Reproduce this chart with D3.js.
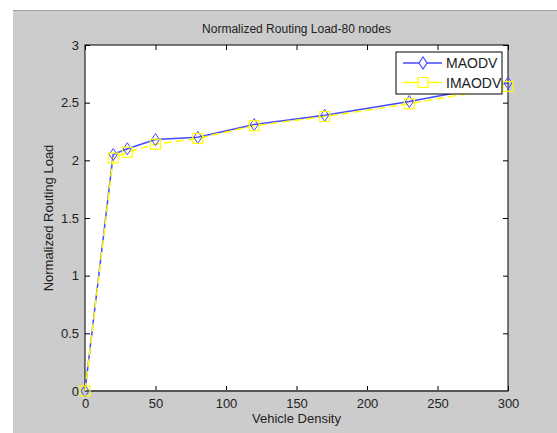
<!DOCTYPE html>
<html>
<head>
<meta charset="utf-8">
<script src="https://cdn.jsdelivr.net/npm/d3@7"></script>
<style>
  body { margin: 0; background: #fff; }
  svg text { font-family: Arial, "Liberation Sans", sans-serif; fill: #222; }
</style>
</head>
<body>
<div id="chart"></div>
<script>
// values
var density = [0, 20, 30, 50, 80, 120, 170, 230, 300];
var maodv  = [0, 2.05, 2.10, 2.18, 2.20, 2.31, 2.39, 2.51, 2.67];
var imaodv = [0, 2.02, 2.07, 2.14, 2.19, 2.30, 2.38, 2.49, 2.64];
var xTicks = [0, 50, 100, 150, 200, 250, 300];
var yTicks = [0, 0.5, 1, 1.5, 2, 2.5, 3];

var W = 557, H = 433;
var margin = {top: 45, right: 49, bottom: 42, left: 85},
  width = W - margin.left - margin.right,
  height = H - margin.top - margin.bottom;

var svg = d3.select("#chart").append("svg")
  .attr("width", W)
  .attr("height", H);

// grey figure background
svg.append("rect")
  .attr("x", 13).attr("y", 10)
  .attr("width", W - 13).attr("height", H - 10)
  .attr("fill", "#cccccc");
svg.append("line")
  .attr("x1", 13).attr("x2", W).attr("y1", 10.5).attr("y2", 10.5)
  .attr("stroke", "#a0a0a0");

var g = svg.append("g")
  .attr("transform", "translate(" + margin.left + "," + margin.top + ")");

var x = d3.scaleLinear().domain([0, 300]).range([0, width]);
var y = d3.scaleLinear().domain([0, 3]).range([height, 0]);

g.append("rect")
  .attr("width", width).attr("height", height)
  .attr("fill", "#fff");

// axes, ticks pointing inward like matlab
var xAxis = d3.axisBottom(x).tickValues(xTicks).tickSize(-5).tickPadding(8).tickFormat(d3.format("d"));
var yAxis = d3.axisLeft(y).tickValues(yTicks).tickSize(-5).tickPadding(6).tickFormat(function(d) { return d; });

var gx = g.append("g").attr("transform", "translate(0," + height + ")").call(xAxis);
var gy = g.append("g").call(yAxis);
var gxTop = g.append("g").call(d3.axisTop(x).tickValues(xTicks).tickSize(-5).tickFormat(""));
var gyRight = g.append("g").attr("transform", "translate(" + width + ",0)")
  .call(d3.axisRight(y).tickValues(yTicks).tickSize(-5).tickFormat(""));

[gx, gy, gxTop, gyRight].forEach(function(a) {
  a.select(".domain").remove();
  a.selectAll(".tick line").attr("stroke", "#000");
  a.selectAll("text").style("font-size", "13px").attr("fill", "#222");
});

// box
g.append("rect")
  .attr("width", width).attr("height", height)
  .attr("fill", "none").attr("stroke", "#000").attr("stroke-width", 1);
g.append("line")
  .attr("x1", 0).attr("x2", width).attr("y1", height).attr("y2", height)
  .attr("stroke", "#555").attr("stroke-width", 2);

// lines
var line = d3.line()
  .x(function(d) { return x(d[0]); })
  .y(function(d) { return y(d[1]); });

var mData = density.map(function(d, i) { return [d, maodv[i]]; });
var iData = density.map(function(d, i) { return [d, imaodv[i]]; });

g.append("path").datum(mData)
  .attr("d", line).attr("fill", "none")
  .attr("stroke", "#4848ff").attr("stroke-width", 1.5);

g.append("path").datum(iData)
  .attr("d", line).attr("fill", "none")
  .attr("stroke", "#ffff00").attr("stroke-width", 1.5)
  .attr("stroke-dasharray", "8,4");

var diamond = "M0,-6L4,0L0,6L-4,0Z";

g.selectAll(".dm").data(mData).enter().append("path")
  .attr("class", "dm")
  .attr("transform", function(d) { return "translate(" + x(d[0]) + "," + y(d[1]) + ")"; })
  .attr("d", diamond)
  .attr("fill", "none").attr("stroke", "#4848ff").attr("stroke-width", 1);

g.selectAll(".sq").data(iData).enter().append("rect")
  .attr("class", "sq")
  .attr("x", function(d) { return x(d[0]) - 5; })
  .attr("y", function(d) { return y(d[1]) - 5; })
  .attr("width", 10).attr("height", 10)
  .attr("fill", "none").attr("stroke", "#ffff00").attr("stroke-width", 1.2);

// title and labels
svg.append("text")
  .attr("x", margin.left + width / 2).attr("y", 33)
  .attr("text-anchor", "middle")
  .style("font-size", "12px")
  .text("Normalized Routing Load-80 nodes");

svg.append("text")
  .attr("x", margin.left + width / 2).attr("y", 423)
  .attr("text-anchor", "middle")
  .style("font-size", "13px")
  .text("Vehicle Density");

svg.append("text")
  .attr("transform", "translate(53," + (margin.top + height / 2) + ") rotate(-90)")
  .attr("text-anchor", "middle")
  .style("font-size", "13px")
  .text("Normalized Routing Load");

// legend
var lg = svg.append("g").attr("transform", "translate(396,52)");
lg.append("rect")
  .attr("width", 106).attr("height", 42)
  .attr("fill", "#fff").attr("stroke", "#000").attr("stroke-width", 1);

var legendItems = [
  {name: "MAODV", color: "#4848ff", shape: "diamond"},
  {name: "IMAODV", color: "#ffff00", shape: "square"}
];
var li = lg.selectAll(".li").data(legendItems).enter().append("g")
  .attr("transform", function(d, i) { return "translate(0," + (11 + i * 19.5) + ")"; });
li.append("line")
  .attr("x1", 7).attr("x2", 46)
  .attr("stroke", function(d) { return d.color; }).attr("stroke-width", 1.5);
li.append("path")
  .attr("transform", "translate(27,0)")
  .attr("d", function(d) { return d.shape === "diamond" ? diamond : "M-5,-5H5V5H-5Z"; })
  .attr("fill", "#fff")
  .attr("stroke", function(d) { return d.color; }).attr("stroke-width", 1.2);
li.append("text")
  .attr("x", 50).attr("dy", "0.36em")
  .style("font-size", "14px")
  .text(function(d) { return d.name; });
</script>
</body>
</html>
